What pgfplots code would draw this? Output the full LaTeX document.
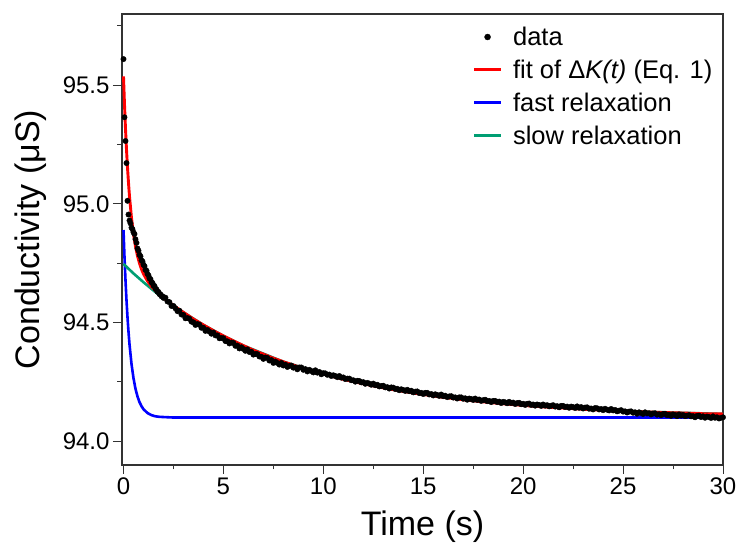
\documentclass[border=0pt]{standalone}
\usepackage{fontspec}
\setmainfont{Liberation Sans}
\usepackage{pgfplots}
\pgfplotsset{compat=1.18}
\definecolor{fitred}{RGB}{255,0,0}
\definecolor{fastblue}{RGB}{0,0,255}
\definecolor{slowgreen}{RGB}{0,158,115}
\begin{document}
\begin{tikzpicture}
\begin{axis}[
 scale only axis, width=601pt, height=451pt,
 xmin=-0.075, xmax=30, ymin=93.9, ymax=95.8,
 axis line style={black!80, line width=1.2pt},
 xtick={0,5,...,30}, ytick={94,94.5,95,95.5},
 minor xtick={2.5,7.5,12.5,17.5,22.5,27.5},
 minor ytick={94.25,94.75,95.25,95.75},
 tick align=outside, xtick pos=left, ytick pos=left,
 major tick length=9pt, minor tick length=4.5pt,
 tick style={black!80, line width=1pt},
 /pgf/number format/assume math mode=true,
 y tick label style={/pgf/number format/.cd, fixed, fixed zerofill, precision=1, /tikz/.cd},
 tick label style={font=\fontsize{24}{28}\selectfont},
 label style={font=\fontsize{34}{38}\selectfont},
 xlabel={Time (s)}, ylabel={Conductivity (μS)},
 xlabel style={at={(axis description cs:0.5,-0.1375)}, anchor=center},
 ylabel style={at={(axis description cs:-0.1514,0.5)}, anchor=center},
 legend style={at={(axis description cs:0.583,0.976)}, anchor=north west, draw=none, fill=none,
   font=\fontsize{25.5}{30}\selectfont, row sep=9pt, inner sep=0pt},
 legend cell align=left,
]
\coordinate (SW) at (rel axis cs:0,0);
\coordinate (NE) at (rel axis cs:1,1);
\addplot[fastblue, line width=2.6pt, forget plot] coordinates {
(0,94.890) (0.05,94.776) (0.1,94.678) (0.15,94.594) (0.2,94.523) (0.25,94.462) (0.3,94.409) (0.4,94.326) (0.5,94.266) (0.6,94.221) (0.7,94.189) (0.8,94.165) (0.9,94.148) (1.0,94.135) (1.2,94.119) (1.4,94.110) (1.6,94.105) (1.8,94.103) (2.0,94.102) (2.5,94.100) (3,94.100) (30,94.100)
};
\addplot[slowgreen, line width=2.6pt, forget plot] coordinates {
(0,94.747) (0.5,94.707) (1,94.670) (1.5,94.635) (2,94.602) (2.5,94.572) (3,94.543) (4,94.490) (5,94.444) (6,94.403) (8,94.335) (10,94.283) (12,94.242) (15,94.197) (20,94.151) (25,94.127) (30,94.115)
};
\addplot[only marks, mark=*, mark size=2.7pt, black, forget plot] coordinates {
(0,95.610) (0.05,95.365) (0.1,95.265) (0.15,95.172) (0.2,95.013) (0.25,94.955) (0.3,94.930) (0.35,94.918) (0.4,94.900) (0.45,94.893) (0.5,94.880) (0.55,94.873) (0.6,94.851) (0.65,94.836) (0.7,94.812) (0.75,94.803) (0.8,94.786) (0.85,94.779) (0.9,94.762) (0.95,94.758) (1.0,94.744) (1.05,94.738) (1.1,94.722) (1.15,94.719) (1.2,94.705) (1.25,94.699) (1.3,94.686) (1.35,94.683) (1.4,94.670) (1.45,94.667) (1.5,94.656) (1.55,94.654) (1.6,94.643) (1.65,94.640) (1.7,94.630) (1.75,94.629) (1.8,94.620) (1.85,94.619) (1.9,94.611) (1.95,94.611) (2.0,94.604)
(2.1,94.605) (2.2,94.589) (2.3,94.586) (2.4,94.570) (2.5,94.570) (2.6,94.560) (2.7,94.548) (2.8,94.550) (2.9,94.534) (3.0,94.532)
(3.1,94.518) (3.2,94.519) (3.3,94.516) (3.4,94.504) (3.5,94.501) (3.6,94.490) (3.7,94.494) (3.8,94.491) (3.9,94.478) (4.0,94.478)
(4.1,94.465) (4.2,94.469) (4.3,94.462) (4.4,94.453) (4.5,94.458) (4.6,94.446) (4.7,94.446) (4.8,94.434) (4.9,94.435) (5.0,94.434)
(5.1,94.422) (5.2,94.421) (5.3,94.412) (5.4,94.416) (5.5,94.414) (5.6,94.402) (5.7,94.403) (5.8,94.391) (5.9,94.396) (6.0,94.389)
(6.1,94.381) (6.2,94.387) (6.3,94.376) (6.4,94.377) (6.5,94.365) (6.6,94.368) (6.7,94.367) (6.8,94.357) (6.9,94.356) (7.0,94.347)
(7.1,94.353) (7.2,94.351) (7.3,94.340) (7.4,94.342) (7.5,94.330) (7.6,94.336) (7.7,94.330) (7.8,94.323) (7.9,94.330) (8.0,94.319)
(8.1,94.323) (8.2,94.313) (8.3,94.317) (8.4,94.319) (8.5,94.310) (8.6,94.311) (8.7,94.303) (8.8,94.311) (8.9,94.311) (9.0,94.301)
(9.1,94.304) (9.2,94.294) (9.3,94.301) (9.4,94.296) (9.5,94.290) (9.6,94.299) (9.7,94.289) (9.8,94.292) (9.9,94.282) (10.0,94.287)
(10.1,94.286) (10.2,94.280) (10.3,94.281) (10.4,94.275) (10.5,94.278) (10.6,94.275) (10.7,94.270) (10.8,94.275) (10.9,94.268) (11.0,94.269)
(11.1,94.262) (11.2,94.264) (11.3,94.264) (11.4,94.257) (11.5,94.257) (11.6,94.251) (11.7,94.255) (11.8,94.254) (11.9,94.248) (12.0,94.249)
(12.1,94.242) (12.2,94.246) (12.3,94.243) (12.4,94.238) (12.5,94.243) (12.6,94.236) (12.7,94.238) (12.8,94.231) (12.9,94.233) (13.0,94.234)
(13.1,94.227) (13.2,94.228) (13.3,94.222) (13.4,94.227) (13.5,94.226) (13.6,94.220) (13.7,94.221) (13.8,94.215) (13.9,94.219) (14.0,94.216)
(14.1,94.212) (14.2,94.217) (14.3,94.211) (14.4,94.213) (14.5,94.206) (14.6,94.209) (14.7,94.210) (14.8,94.203) (14.9,94.204) (15.0,94.199)
(15.1,94.204) (15.2,94.204) (15.3,94.197) (15.4,94.199) (15.5,94.193) (15.6,94.198) (15.7,94.195) (15.8,94.191) (15.9,94.197) (16.0,94.190)
(16.1,94.192) (16.2,94.186) (16.3,94.189) (16.4,94.190) (16.5,94.184) (16.6,94.185) (16.7,94.180) (16.8,94.185) (16.9,94.185) (17.0,94.179)
(17.1,94.181) (17.2,94.175) (17.3,94.180) (17.4,94.178) (17.5,94.174) (17.6,94.180) (17.7,94.174) (17.8,94.176) (17.9,94.170) (18.0,94.173)
(18.1,94.175) (18.2,94.169) (18.3,94.170) (18.4,94.165) (18.5,94.170) (18.6,94.170) (18.7,94.165) (18.8,94.167) (18.9,94.161) (19.0,94.166)
(19.1,94.164) (19.2,94.160) (19.3,94.166) (19.4,94.161) (19.5,94.163) (19.6,94.157) (19.7,94.161) (19.8,94.162) (19.9,94.156) (20.0,94.158)
(20.1,94.153) (20.2,94.158) (20.3,94.159) (20.4,94.153) (20.5,94.155) (20.6,94.150) (20.7,94.155) (20.8,94.153) (20.9,94.149) (21.0,94.155)
(21.1,94.150) (21.2,94.152) (21.3,94.147) (21.4,94.150) (21.5,94.152) (21.6,94.146) (21.7,94.148) (21.8,94.143) (21.9,94.149) (22.0,94.149)
(22.1,94.144) (22.2,94.146) (22.3,94.141) (22.4,94.146) (22.5,94.144) (22.6,94.140) (22.7,94.147) (22.8,94.141) (22.9,94.144) (23.0,94.138)
(23.1,94.142) (23.2,94.143) (23.3,94.137) (23.4,94.138) (23.5,94.134) (23.6,94.140) (23.7,94.139) (23.8,94.134) (23.9,94.136) (24.0,94.131)
(24.1,94.137) (24.2,94.133) (24.3,94.130) (24.4,94.136) (24.5,94.130) (24.6,94.132) (24.7,94.126) (24.8,94.129) (24.9,94.131) (25.0,94.125)
(25.1,94.126) (25.2,94.121) (25.3,94.125) (25.4,94.126) (25.5,94.120) (25.6,94.122) (25.7,94.116) (25.8,94.122) (25.9,94.118) (26.0,94.115)
(26.1,94.122) (26.2,94.117) (26.3,94.118) (26.4,94.113) (26.5,94.117) (26.6,94.118) (26.7,94.112) (26.8,94.114) (26.9,94.110) (27.0,94.115)
(27.1,94.116) (27.2,94.110) (27.3,94.112) (27.4,94.107) (27.5,94.113) (27.6,94.111) (27.7,94.106) (27.8,94.113) (27.9,94.108) (28.0,94.111)
(28.1,94.106) (28.2,94.108) (28.3,94.110) (28.4,94.105) (28.5,94.106) (28.6,94.101) (28.7,94.107) (28.8,94.108) (28.9,94.102) (29.0,94.105)
(29.1,94.099) (29.2,94.104) (29.3,94.102) (29.4,94.098) (29.5,94.105) (29.6,94.099) (29.7,94.101) (29.8,94.096) (29.9,94.099) (30.0,94.101)
};
\addplot[fitred, line width=2.9pt, forget plot] coordinates {
(0,95.537) (0.05,95.419) (0.1,95.317) (0.15,95.229) (0.2,95.154) (0.25,95.089) (0.3,95.032) (0.4,94.941) (0.5,94.873) (0.6,94.821) (0.7,94.781) (0.8,94.750) (0.9,94.725) (1.0,94.705) (1.2,94.675) (1.4,94.652) (1.6,94.634) (1.8,94.618) (2.0,94.604) (2.5,94.572) (3,94.543) (3.5,94.515) (4,94.490) (4.5,94.466) (5,94.444) (5.5,94.423) (6,94.403) (6.5,94.384) (7,94.367) (7.5,94.350) (8,94.335) (8.5,94.321) (9,94.307) (9.5,94.294) (10,94.283) (11,94.261) (12,94.242) (13,94.225) (14,94.210) (15,94.197) (16,94.185) (17,94.175) (18,94.166) (19,94.158) (20,94.151) (21,94.145) (22,94.140) (23,94.135) (24,94.131) (25,94.127) (26,94.124) (27,94.121) (28,94.119) (29,94.116) (30,94.115)
};
\addlegendimage{legend image code/.code={\path[draw=none,fill=none] (0pt,0pt) -- (37pt,0pt); \fill[black] (13.5pt,0pt) circle (3pt);}}
\addlegendentry{data}
\addlegendimage{legend image code/.code={\path[draw=none,fill=none] (0pt,0pt) -- (37pt,0pt); \draw[fitred, line width=3pt] (0pt,0pt) -- (27pt,0pt);}}
\addlegendentry{fit of Δ\textit{K(t)} (Eq. 1)}
\addlegendimage{legend image code/.code={\path[draw=none,fill=none] (0pt,0pt) -- (37pt,0pt); \draw[fastblue, line width=3pt] (0pt,0pt) -- (27pt,0pt);}}
\addlegendentry{fast relaxation}
\addlegendimage{legend image code/.code={\path[draw=none,fill=none] (0pt,0pt) -- (37pt,0pt); \draw[slowgreen, line width=3pt] (0pt,0pt) -- (27pt,0pt);}}
\addlegendentry{slow relaxation}
\end{axis}
\pgfresetboundingbox
\path[use as bounding box] ([shift={(-122pt,-84pt)}]SW) rectangle ([shift={(17pt,14pt)}]NE);
\end{tikzpicture}
\end{document}
